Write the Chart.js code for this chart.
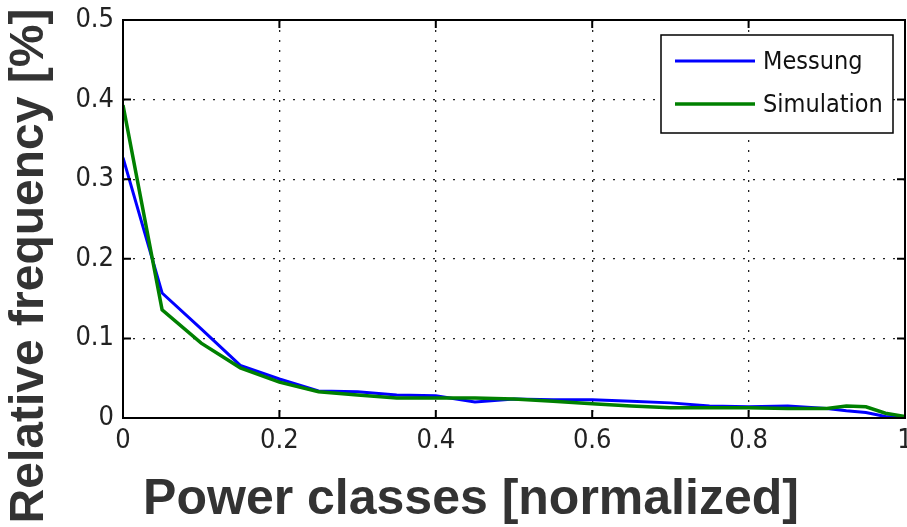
<!DOCTYPE html>
<html>
<head>
<meta charset="utf-8">
<script src="https://cdn.jsdelivr.net/npm/chart.js@4.4.0/dist/chart.umd.min.js"></script>
<style>
html, body { margin: 0; padding: 0; background: #fff; overflow: hidden; }
#wrap { width: 907px; height: 527px; position: relative; }
</style>
</head>
<body>
<div id="wrap"><canvas id="chart"></canvas></div>
<script>
// data
const powerClasses = [0, 0.05, 0.1, 0.15, 0.2, 0.25, 0.3, 0.35, 0.4, 0.45, 0.5, 0.55, 0.6, 0.65, 0.7, 0.75, 0.8, 0.85, 0.9, 0.925, 0.95, 0.975, 1];
const messung = [0.327, 0.157, 0.112, 0.066, 0.049, 0.034, 0.033, 0.029, 0.028, 0.020, 0.024, 0.023, 0.023, 0.021, 0.019, 0.015, 0.014, 0.015, 0.012, 0.009, 0.007, 0.002, 0.001];
const simulation = [0.393, 0.136, 0.094, 0.063, 0.045, 0.033, 0.029, 0.025, 0.025, 0.025, 0.024, 0.021, 0.018, 0.015, 0.013, 0.013, 0.013, 0.012, 0.012, 0.015, 0.014, 0.006, 0.002];
const xTicks = [0, 0.2, 0.4, 0.6, 0.8, 1];
const yTicks = [0, 0.1, 0.2, 0.3, 0.4, 0.5];
const xTitle = "Power classes [normalized]";
const yTitle = "Relative frequency [%]";

const narrow = "'DejaVu Sans Condensed', 'Liberation Sans Narrow', 'Arial Narrow', sans-serif";
const tickFont = { family: narrow, style: "condensed", size: 27 };

function pts(ys) {
    return powerClasses.map((x, i) => ({ x: x, y: ys[i] }));
}

// MATLAB style box, inward ticks, axis titles and legend
const decor = {
    id: "decor",
    afterDatasetsDraw(chart) {
        const ctx = chart.ctx;
        const a = chart.chartArea;
        const sx = chart.scales.x, sy = chart.scales.y;
        ctx.save();
        ctx.strokeStyle = "#000";
        ctx.lineWidth = 2;
        ctx.strokeRect(a.left, a.top, a.right - a.left, a.bottom - a.top);
        ctx.beginPath();
        xTicks.forEach(v => {
            let px = sx.getPixelForValue(v);
            ctx.moveTo(px, a.bottom); ctx.lineTo(px, a.bottom - 8);
            ctx.moveTo(px, a.top); ctx.lineTo(px, a.top + 8);
        });
        yTicks.forEach(v => {
            let py = sy.getPixelForValue(v);
            ctx.moveTo(a.left, py); ctx.lineTo(a.left + 8, py);
            ctx.moveTo(a.right, py); ctx.lineTo(a.right - 8, py);
        });
        ctx.stroke();

        // legend
        const lx = 661, ly = 35, lw = 232, lh = 98;
        ctx.fillStyle = "#fff";
        ctx.fillRect(lx, ly, lw, lh);
        ctx.lineWidth = 1.5;
        ctx.strokeRect(lx, ly, lw, lh);
        ctx.font = "condensed 25px " + narrow;
        ctx.textBaseline = "middle";
        ctx.textAlign = "left";
        [messung, simulation].forEach((s, i) => {
            let ds = chart.data.datasets[i];
            let yy = ly + 26 + i * 43;
            ctx.strokeStyle = ds.borderColor;
            ctx.lineWidth = ds.borderWidth;
            ctx.beginPath();
            ctx.moveTo(lx + 14, yy); ctx.lineTo(lx + 94, yy);
            ctx.stroke();
            ctx.fillStyle = "#111";
            ctx.fillText(ds.label, lx + 102, yy + 1);
        });

        // axis titles
        ctx.fillStyle = "#333";
        ctx.font = "bold 50px 'Liberation Sans', Arial, sans-serif";
        ctx.textAlign = "center";
        ctx.fillText(xTitle, 471, 500);
        ctx.font = "bold 48px 'Liberation Sans', Arial, sans-serif";
        ctx.translate(30, 266);
        ctx.rotate(-Math.PI / 2);
        ctx.fillText(yTitle, 0, 0);
        ctx.restore();
    }
};

new Chart(document.getElementById("chart"), {
    type: "line",
    data: {
        datasets: [
            { label: "Messung", data: pts(messung), borderColor: "#0000ff", borderWidth: 3, pointRadius: 0, tension: 0, order: 2 },
            { label: "Simulation", data: pts(simulation), borderColor: "#008000", borderWidth: 3.5, pointRadius: 0, tension: 0, order: 1 }
        ]
    },
    options: {
        responsive: true,
        maintainAspectRatio: false,
        animation: false,
        devicePixelRatio: 1,
        layout: { padding: { top: 20, right: 2, left: 0, bottom: 0 } },
        plugins: { legend: { display: false }, tooltip: { enabled: false } },
        scales: {
            x: {
                type: "linear", min: 0, max: 1,
                afterBuildTicks: s => { s.ticks = xTicks.map(v => ({ value: v })); },
                afterFit: s => { s.height = 109; s.paddingLeft = 0; s.paddingRight = 0; },
                ticks: { font: tickFont, color: "#222", padding: 7, maxRotation: 0, callback: v => String(v) },
                grid: { color: "#222", lineWidth: 1.3, drawTicks: false },
                border: { display: false, dash: [2, 8] }
            },
            y: {
                type: "linear", min: 0, max: 0.5,
                afterBuildTicks: s => { s.ticks = yTicks.map(v => ({ value: v })); },
                afterFit: s => { s.width = 123; s.paddingTop = 0; s.paddingBottom = 0; },
                ticks: { font: tickFont, color: "#222", padding: 9, callback: v => String(v) },
                grid: { color: "#222", lineWidth: 1.3, drawTicks: false },
                border: { display: false, dash: [2, 8] }
            }
        }
    },
    plugins: [decor]
});
</script>
</body>
</html>
